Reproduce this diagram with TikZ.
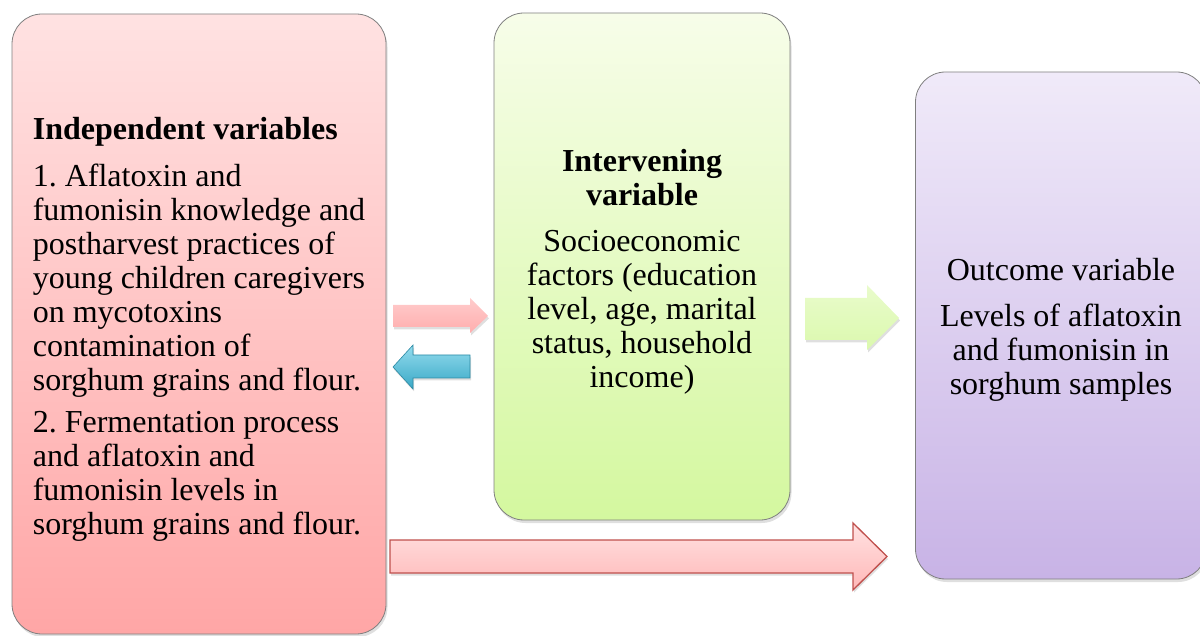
\documentclass[tikz,border=0pt]{standalone}
\usepackage{fontspec}
\setmainfont{Liberation Serif}
\usetikzlibrary{shadows}
\frenchspacing
\definecolor{boxline}{HTML}{7F7F7F}
\definecolor{redtop}{HTML}{FFE2E2}
\definecolor{redbot}{HTML}{FFA6A6}
\definecolor{greentop}{HTML}{F7FDE9}
\definecolor{greenbot}{HTML}{D4F89F}
\definecolor{purptop}{HTML}{F0EAF9}
\definecolor{purpbot}{HTML}{C8B3E6}
\definecolor{arrowred}{HTML}{C0504D}
\definecolor{bluetop}{HTML}{93DCEE}
\definecolor{bluebot}{HTML}{3AA8C6}
\definecolor{blueline}{HTML}{2C8AA4}
\begin{document}
\begin{tikzpicture}[x=1pt,y=-1pt,
  box/.style={rectangle, rounded corners=30pt, draw=boxline, line width=0.8pt,
    inner sep=0pt,
    drop shadow={shadow xshift=1.5pt, shadow yshift=-3pt, opacity=0.25}},
  txt/.style={inner sep=0pt, font=\fontsize{32}{34}\selectfont, text=black},
  blockarrow/.style={drop shadow={shadow xshift=1pt, shadow yshift=-2.5pt, opacity=0.25}}
]
\useasboundingbox (0,0) rectangle (1200,636);
\clip (0,0) rectangle (1200,636);

\node[box, top color=redtop, bottom color=redbot, minimum width=374pt, minimum height=620pt]
  (indep) at (199,324) {};
\node[txt, align=left] (indeptext) at ([yshift=-5pt]indep.center) {\textbf{Independent variables}\\[13pt]
  1. Aflatoxin and\\ fumonisin knowledge and\\ postharvest practices of\\ young children caregivers\\ on mycotoxins\\ contamination of\\ sorghum grains and flour.\\[8pt]
  2. Fermentation process\\ and aflatoxin and\\ fumonisin levels in\\ sorghum grains and flour.};

\node[box, top color=greentop, bottom color=greenbot, minimum width=296pt, minimum height=507pt]
  (interv) at (642,266.5) {};
\node[txt, align=center] (intervtext) at ([yshift=-5pt]interv.center) {\textbf{Intervening}\\ \textbf{variable}\\[12pt]
  Socioeconomic\\ factors (education\\ level, age, marital\\ status, household\\ income)};

\node[box, top color=purptop, bottom color=purpbot, minimum width=291pt, minimum height=507pt]
  (outc) at (1061,325.5) {};
\node[txt, align=center] (outctext) at ([yshift=-4pt]outc.center) {Outcome variable\\[12pt]
  Levels of aflatoxin\\ and fumonisin in\\ sorghum samples};

% small pink arrow (right)
\path[blockarrow, top color=red!20, bottom color=red!32]
  (393,305) -- (470,305) -- (470,298) -- (488,316) -- (470,333) -- (470,327) -- (393,327) -- cycle;
% blue arrow (left)
\path[blockarrow, top color=bluetop, bottom color=bluebot, draw=blueline, line width=0.6pt]
  (470,355) -- (413,355) -- (413,345) -- (393,367) -- (413,389) -- (413,378) -- (470,378) -- cycle;
% green arrow
\path[blockarrow, top color=greentop!60!greenbot, bottom color=greenbot!80!greentop]
  (805,298) -- (867,298) -- (867,285) -- (899,318) -- (867,350) -- (867,340) -- (805,340) -- cycle;
% big red arrow
\path[blockarrow, top color=redtop, bottom color=redbot!80!white, draw=arrowred, line width=1.3pt]
  (390,540) -- (853,540) -- (853,523) -- (887,556.5) -- (853,590) -- (853,573) -- (390,573) -- cycle;
\end{tikzpicture}
\end{document}
